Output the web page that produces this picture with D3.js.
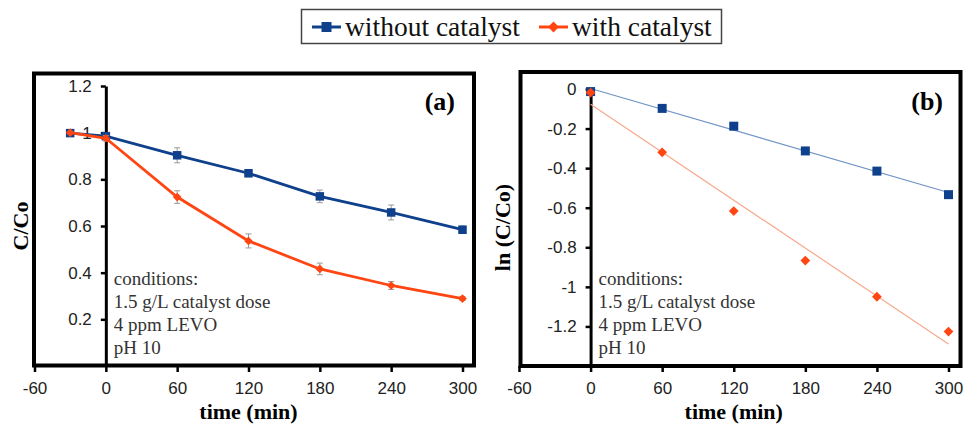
<!DOCTYPE html>
<html>
<head>
<meta charset="utf-8">
<script src="https://cdn.jsdelivr.net/npm/d3@7"></script>
<style>
  body { margin: 0; background: #fff; }
  svg { display: block; }
  .tick text { font-family: "Liberation Sans", Arial, sans-serif; font-size: 17px; fill: #222; }
  .axis--y .domain { stroke: #000; stroke-width: 3; }
  .axis--y .tick line, .axis--x .tick line { stroke: #000; stroke-width: 2.5; }
  .axis--x .domain { display: none; }
  .title { font-family: "Liberation Serif", "Times New Roman", serif; font-weight: bold; fill: #000; }
  .note { font-family: "Liberation Serif", "Times New Roman", serif; font-size: 19px; fill: #333; }
  .legend text { font-family: "Liberation Serif", "Times New Roman", serif; font-size: 27.5px; fill: #111; }
</style>
</head>
<body>
<svg id="fig" width="965" height="427"></svg>
<script>
// panel (a): C/Co vs time
var timesA = [-30, 0, 60, 120, 180, 240, 300],
    withoutA = [0.998, 0.985, 0.903, 0.826, 0.727, 0.658, 0.584],
    withoutErrA = [0.005, 0.01, 0.032, 0.015, 0.027, 0.032, 0.016],
    withA = [1.0, 0.976, 0.724, 0.536, 0.416, 0.345, 0.289],
    withErrA = [0.005, 0.012, 0.027, 0.03, 0.025, 0.017, 0.008];

// panel (b): ln(C/Co) vs time
var timesB = [0, 60, 120, 180, 240, 300],
    withoutB = [-0.013, -0.098, -0.188, -0.313, -0.415, -0.534],
    withB = [-0.018, -0.32, -0.617, -0.867, -1.05, -1.226];

var xTicks = [-60, 0, 60, 120, 180, 240, 300],
    yTicksA = [0.2, 0.4, 0.6, 0.8, 1, 1.2],
    yTicksB = [0, -0.2, -0.4, -0.6, -0.8, -1, -1.2],
    notes = ['conditions:', '1.5 g/L catalyst dose', '4 ppm LEVO', 'pH 10'],
    seriesNames = ['without catalyst', 'with catalyst'];

var blue = '#0f408c', orange = '#ff4612',
    blueTrend = '#6f93c3', orangeTrend = '#f8a88c';

var svg = d3.select('#fig');

// least squares line through the points, used for the trend lines in (b)
function fit(xs, ys) {
  var mx = d3.mean(xs), my = d3.mean(ys),
      sxy = d3.sum(xs, (x, i) => (x - mx) * (ys[i] - my)),
      sxx = d3.sum(xs, x => (x - mx) * (x - mx)),
      k = sxy / sxx;
  return x => my + k * (x - mx);
}

function marker(sel, shape, size, color) {
  var sym = d3.symbol().type(shape === 'square' ? d3.symbolSquare : d3.symbolDiamond2)
    .size(shape === 'square' ? size * size : size * size * 0.75);
  return sel.append('path')
    .attr('d', sym)
    .attr('fill', color);
}

function panel(opts) {
  var g = svg.append('g'),
      x = d3.scaleLinear().domain([-60, 300]).range(opts.xRange),
      y = d3.scaleLinear().domain(opts.yDomain).range([366, opts.yTop]);

  // outer frame
  g.append('rect')
    .attr('x', opts.frame[0]).attr('y', opts.frame[1])
    .attr('width', opts.frame[2]).attr('height', opts.frame[3])
    .attr('fill', 'none').attr('stroke', '#000').attr('stroke-width', 4);

  g.append('g')
    .attr('class', 'axis axis--x')
    .attr('transform', 'translate(0,366)')
    .call(d3.axisBottom(x).tickValues(xTicks).tickFormat(d => String(d)).tickSize(6).tickPadding(10))
    .select('.domain').remove();

  g.append('g')
    .attr('class', 'axis axis--y')
    .attr('transform', 'translate(' + x(0) + ',0)')
    .call(d3.axisLeft(y).tickValues(opts.yTicks).tickFormat(d => String(d)).tickSize(5).tickSizeOuter(0).tickPadding(9));

  g.selectAll('.axis--y .tick line').attr('stroke-width', 2.5);

  g.append('text')
    .attr('class', 'title')
    .attr('transform', 'translate(' + opts.yLabelX + ',' + ((366 + opts.yTop) / 2) + ') rotate(-90)')
    .attr('text-anchor', 'middle')
    .attr('dy', '0.35em')
    .style('font-size', '22px')
    .text(opts.yLabel);

  g.append('text')
    .attr('class', 'title')
    .attr('x', (x(-60) + x(300)) / 2).attr('y', 419)
    .attr('text-anchor', 'middle')
    .style('font-size', '22px')
    .text('time (min)');

  g.append('text')
    .attr('class', 'title')
    .attr('x', opts.tag[0]).attr('y', opts.tag[1])
    .attr('text-anchor', 'end')
    .style('font-size', '26px')
    .text(opts.tagText);

  g.append('text')
    .attr('class', 'note')
    .selectAll('tspan')
    .data(notes)
    .enter().append('tspan')
    .attr('x', x(0) + 8)
    .attr('y', (d, i) => 285 + i * 23)
    .text(d => d);

  return {g: g, x: x, y: y};
}

// ---- panel (a)
var pa = panel({
  xRange: [34.5, 462.5], yDomain: [0, 1.2], yTop: 86, yTicks: yTicksA,
  frame: [34, 73.5, 440, 292], yLabel: 'C/Co', yLabelX: 20,
  tag: [455, 110], tagText: '(a)'
});

[
  {v: withoutA, e: withoutErrA, c: blue, shape: 'square', s: 8.5},
  {v: withA, e: withErrA, c: orange, shape: 'diamond', s: 8}
].forEach(function(ser) {
  var line = d3.line().x((d, i) => pa.x(timesA[i])).y(d => pa.y(d));
  var eb = pa.g.append('g').attr('stroke', '#999').attr('stroke-width', 1);
  ser.v.forEach(function(v, i) {
    var cx = pa.x(timesA[i]), y0 = pa.y(v - ser.e[i]), y1 = pa.y(v + ser.e[i]);
    eb.append('line').attr('x1', cx).attr('x2', cx).attr('y1', y0).attr('y2', y1);
    eb.append('line').attr('x1', cx - 3).attr('x2', cx + 3).attr('y1', y0).attr('y2', y0);
    eb.append('line').attr('x1', cx - 3).attr('x2', cx + 3).attr('y1', y1).attr('y2', y1);
  });
  pa.g.append('path')
    .attr('d', line(ser.v))
    .attr('fill', 'none')
    .attr('stroke', ser.c)
    .attr('stroke-width', 2.8);
  pa.g.append('g').selectAll('g')
    .data(ser.v)
    .enter().append('g')
    .attr('transform', (d, i) => 'translate(' + pa.x(timesA[i]) + ',' + pa.y(d) + ')')
    .each(function() { marker(d3.select(this), ser.shape, ser.s, ser.c); });
});

// ---- panel (b)
var pb = panel({
  xRange: [519, 948.5], yDomain: [-1.4, 0], yTop: 89, yTicks: yTicksB,
  frame: [520.5, 72, 440, 294], yLabel: 'ln (C/Co)', yLabelX: 502,
  tag: [943, 110], tagText: '(b)'
});

[
  {v: withoutB, c: blue, t: blueTrend, shape: 'square', s: 9},
  {v: withB, c: orange, t: orangeTrend, shape: 'diamond', s: 9}
].forEach(function(ser) {
  var f = fit(timesB, ser.v);
  pb.g.append('line')
    .attr('x1', pb.x(0)).attr('y1', pb.y(f(0)))
    .attr('x2', pb.x(300)).attr('y2', pb.y(f(300)))
    .attr('stroke', ser.t)
    .attr('stroke-width', 1.2);
  pb.g.append('g').selectAll('g')
    .data(ser.v)
    .enter().append('g')
    .attr('transform', (d, i) => 'translate(' + pb.x(timesB[i]) + ',' + pb.y(d) + ')')
    .each(function() { marker(d3.select(this), ser.shape, ser.s, ser.c); });
});

// ---- legend
var lg = svg.append('g').attr('class', 'legend');
lg.append('rect')
  .attr('x', 301.5).attr('y', 9.5).attr('width', 420).attr('height', 34)
  .attr('fill', '#fff').attr('stroke', '#444').attr('stroke-width', 1.5);

var items = [
  {name: seriesNames[0], c: blue, shape: 'square', s: 10, x: 312},
  {name: seriesNames[1], c: orange, shape: 'diamond', s: 10, x: 539}
];
items.forEach(function(it) {
  var it_g = lg.append('g').attr('transform', 'translate(' + it.x + ',27)');
  it_g.append('line').attr('x1', 0).attr('x2', 29).attr('stroke', it.c).attr('stroke-width', 3);
  marker(it_g.append('g').attr('transform', 'translate(14.5,0)'), it.shape, it.s, it.c);
  it_g.append('text').attr('x', 33).attr('dy', '0.32em').text(it.name);
});
</script>
</body>
</html>
